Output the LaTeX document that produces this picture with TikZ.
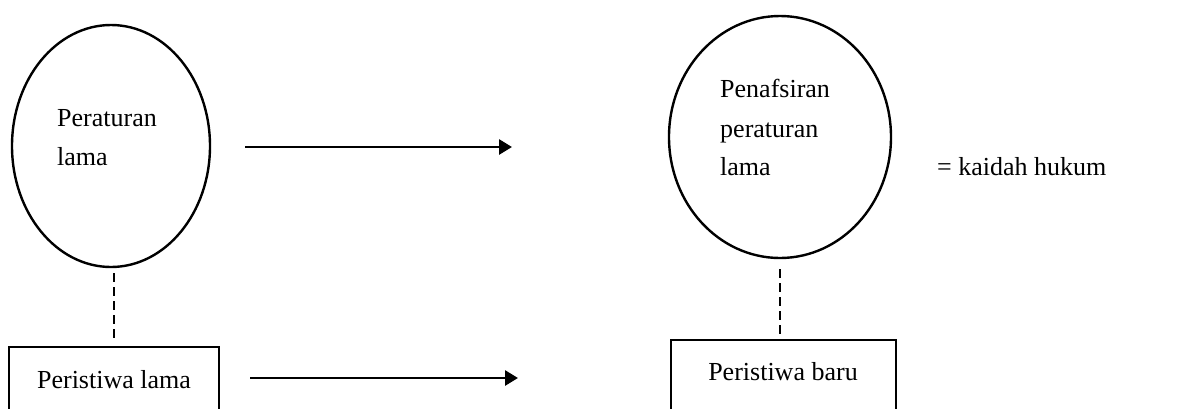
\documentclass[tikz,border=0pt]{standalone}
\usepackage{fontspec}
\setmainfont{Liberation Serif}
\usetikzlibrary{shapes.geometric,arrows.meta}
\begin{document}
\begin{tikzpicture}[x=1pt,y=-1pt,
  bubble/.style={draw,line width=2.4pt,ellipse,inner sep=0pt},
  boxnode/.style={draw,line width=2.4pt,rectangle,inner sep=0pt},
  lbl/.style={inner sep=0pt,font=\fontsize{26}{39}\selectfont},
  flow/.style={line width=2.8pt,-{Triangle[length=13pt,width=15pt]}},
  link/.style={line width=1.6pt,dash pattern=on 9pt off 5pt}]
\useasboundingbox (0,0) rectangle (1194,408);
\clip (0,0) rectangle (1194,408);
% shapes
\node[bubble,minimum width=198pt,minimum height=242pt] (e1) at (111,146) {};
\node[bubble,minimum width=222pt,minimum height=242pt] (e2) at (780,137) {};
\node[boxnode,minimum width=210pt,minimum height=66pt] (r1) at (114,380) {};
\node[boxnode,minimum width=225pt,minimum height=70pt] (r2) at (783.5,375) {};
% texts
\node[lbl,anchor=base west] (t1a) at (57,126) {Peraturan};
\node[lbl,anchor=base west] (t1b) at (57,165) {lama};
\node[lbl,anchor=base west] (t2a) at (720,97) {Penafsiran};
\node[lbl,anchor=base west] (t2b) at (720,137) {peraturan};
\node[lbl,anchor=base west] (t2c) at (720,175) {lama};
\node[lbl,anchor=base west] (kh) at (937,175) {= kaidah hukum};
\node[lbl,anchor=base] (p1) at (114,388) {Peristiwa lama};
\node[lbl,anchor=base] (p2) at (783,380) {Peristiwa baru};
% arrows
\coordinate (a1s) at (245,147);
\coordinate (a1e) at (512,147);
\coordinate (b1s) at (250,378);
\coordinate (b1e) at (518,378);
\draw[flow] (a1s) -- (a1e);
\draw[flow] (b1s) -- (b1e);
% dashed links
\draw[link,shorten <=5pt,shorten >=4pt] (r1.north |- e1.south) -- (r1.north);
\draw[link,shorten <=10pt,shorten >=2pt] (e2.south) -- (e2.south |- r2.north);
\end{tikzpicture}
\end{document}
